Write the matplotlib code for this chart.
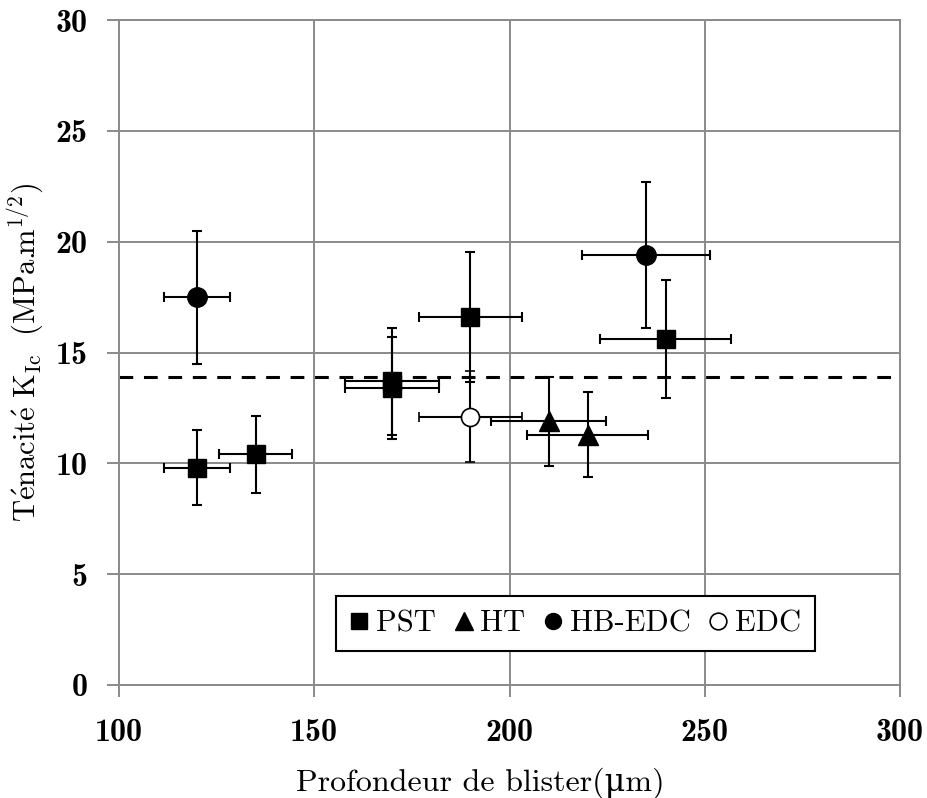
import matplotlib
matplotlib.use("Agg")
import matplotlib.pyplot as plt
from matplotlib.lines import Line2D

plt.rcParams["font.family"] = ["cmr10", "DejaVu Serif"]
plt.rcParams["mathtext.fontset"] = "cm"
plt.rcParams["axes.unicode_minus"] = False

# PST
pst_x = [120, 135, 170, 170, 190, 240]
pst_y = [9.8, 10.4, 13.7, 13.4, 16.6, 15.6]
pst_xerr = [8.5, 9.3, 12, 12, 13.3, 16.8]
pst_yerr = [1.7, 1.75, 2.4, 2.3, 2.95, 2.65]
# HT
ht_x = [210, 220]
ht_y = [11.9, 11.3]
ht_xerr = [14.8, 15.4]
ht_yerr = [2.0, 1.92]
# HB-EDC
hb_x = [120, 235]
hb_y = [17.5, 19.4]
hb_xerr = [8.4, 16.4]
hb_yerr = [3.0, 3.3]
# EDC
edc_x = [190]
edc_y = [12.1]
edc_xerr = [13.3]
edc_yerr = [2.05]

ref_kic = 13.9

xticks = [100, 150, 200, 250, 300]
yticks = [0, 5, 10, 15, 20, 25, 30]

fig = plt.figure(figsize=(9.27, 7.98), dpi=100)
ax = fig.add_axes([119 / 927, 1 - 685 / 798, 781 / 927, 665 / 798])

grey = "#8a8a8a"
ax.set_xlim(100, 300)
ax.set_ylim(0, 30)
ax.set_xticks(xticks)
ax.set_yticks(yticks)
ax.grid(True, color=grey, lw=1.4)
ax.set_axisbelow(True)
for sp in ax.spines.values():
    sp.set_color(grey)
    sp.set_linewidth(1.4)
ax.tick_params(direction="out", length=8.5, width=1.4, color=grey)
ax.tick_params(axis="y", pad=14)
ax.tick_params(axis="x", pad=15)
for lab in ax.get_xticklabels() + ax.get_yticklabels():
    lab.set_family(["cmb10", "DejaVu Serif"])
    lab.set_fontsize(23)

ax.axhline(ref_kic, color="black", lw=2.2, dashes=(4.5, 3.5), zorder=2)

ebkw = dict(ls="none", ecolor="black", elinewidth=1.5, capsize=3.5, capthick=1.5, zorder=3)
ax.errorbar(pst_x, pst_y, xerr=pst_xerr, yerr=pst_yerr, marker="s", ms=13,
            mfc="black", mec="black", **ebkw)
ax.errorbar(ht_x, ht_y, xerr=ht_xerr, yerr=ht_yerr, marker="^", ms=14,
            mfc="black", mec="black", **ebkw)
ax.errorbar(hb_x, hb_y, xerr=hb_xerr, yerr=hb_yerr, marker="o", ms=14,
            mfc="black", mec="black", **ebkw)
ax.errorbar(edc_x, edc_y, xerr=edc_xerr, yerr=edc_yerr, marker="o", ms=13,
            mfc="white", mec="black", mew=1.2, **ebkw)

ax.set_xlabel("Profondeur de blister(\u03bcm)", fontsize=23)
ax.xaxis.set_label_coords(0.462, -0.124)
ax.set_ylabel(r"$\mathrm{T\acute{e}nacit\acute{e}\ K_{Ic}\ \ (MPa.\!\!m^{1/2})}$",
              fontsize=22)
ax.yaxis.set_label_coords(-0.094, 0.5)

handles = [
    Line2D([], [], ls="none", marker="s", ms=12, color="black"),
    Line2D([], [], ls="none", marker="^", ms=13, color="black"),
    Line2D([], [], ls="none", marker="o", ms=11.5, color="black"),
    Line2D([], [], ls="none", marker="o", ms=12, mfc="white", mec="black", mew=1.2),
]
leg = ax.legend(handles, ["PST", "HT", "HB-EDC", "EDC"], ncol=4, loc="lower right",
                bbox_to_anchor=(0.891, 0.051), borderaxespad=0, fontsize=22,
                handlelength=0.6, handletextpad=0.25, columnspacing=0.6,
                fancybox=False, edgecolor="black", framealpha=1, borderpad=0.45)
leg.get_frame().set_linewidth(1.5)

fig.savefig("out.png", dpi=100)
